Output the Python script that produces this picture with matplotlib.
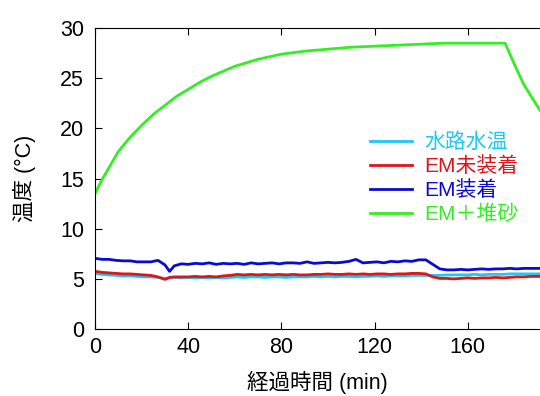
import matplotlib
matplotlib.use("Agg")
import matplotlib.pyplot as plt

plt.rcParams["font.family"] = ["Liberation Sans", "Noto Sans CJK JP", "DejaVu Sans"]

# green: EM + sand
t_green = [0, 3, 6, 10, 15, 20, 25, 30, 35, 40, 45, 50, 55, 60, 70, 80, 90, 100,
           110, 120, 130, 140, 150, 160, 170, 176, 180, 184, 188, 191]
em_sand = [13.5, 14.9, 16.1, 17.7, 19.1, 20.3, 21.4, 22.3, 23.2, 23.9, 24.6, 25.2,
           25.7, 26.2, 26.9, 27.4, 27.7, 27.9, 28.1, 28.2, 28.3, 28.4, 28.5, 28.5,
           28.5, 28.5, 26.4, 24.4, 22.9, 21.8]

t_low = [0, 3, 6, 9, 12, 15, 18, 21, 24, 27, 30, 32, 34, 37, 40, 43, 46, 49, 52, 55,
         58, 61, 64, 67, 70, 73, 76, 79, 82, 85, 88, 91, 94, 97, 100, 103, 106, 109,
         112, 115, 118, 121, 124, 127, 130, 133, 136, 139, 142, 145, 148, 151, 154,
         157, 160, 163, 166, 169, 172, 175, 178, 181, 184, 187, 191]

em_on = [7.05, 6.95, 6.95, 6.85, 6.8, 6.8, 6.7, 6.7, 6.7, 6.85, 6.4, 5.75, 6.3, 6.5,
         6.45, 6.55, 6.5, 6.6, 6.45, 6.55, 6.5, 6.55, 6.45, 6.6, 6.5, 6.55, 6.6, 6.5,
         6.6, 6.6, 6.55, 6.7, 6.55, 6.6, 6.65, 6.6, 6.65, 6.75, 6.95, 6.6, 6.65, 6.7,
         6.6, 6.75, 6.7, 6.8, 6.75, 6.9, 6.9, 6.45, 6.0, 5.9, 5.9, 5.95, 5.9, 5.95,
         6.0, 5.95, 6.0, 6.0, 6.05, 6.0, 6.05, 6.05, 6.05]

em_off = [5.75, 5.65, 5.6, 5.55, 5.5, 5.5, 5.45, 5.4, 5.35, 5.2, 4.95, 5.15, 5.2, 5.2,
          5.2, 5.25, 5.2, 5.25, 5.2, 5.3, 5.35, 5.45, 5.4, 5.45, 5.4, 5.45, 5.4, 5.45,
          5.4, 5.45, 5.4, 5.4, 5.45, 5.45, 5.5, 5.45, 5.45, 5.5, 5.45, 5.5, 5.45, 5.5,
          5.5, 5.45, 5.5, 5.5, 5.55, 5.55, 5.5, 5.2, 5.05, 5.05, 5.0, 5.05, 5.1, 5.05,
          5.1, 5.1, 5.15, 5.1, 5.15, 5.2, 5.2, 5.25, 5.25]

water = [5.55, 5.45, 5.4, 5.35, 5.3, 5.3, 5.25, 5.2, 5.2, 5.15, 5.05, 5.1, 5.15, 5.1,
         5.15, 5.1, 5.15, 5.1, 5.15, 5.1, 5.15, 5.2, 5.15, 5.2, 5.2, 5.15, 5.2, 5.2,
         5.15, 5.2, 5.2, 5.2, 5.25, 5.2, 5.25, 5.2, 5.25, 5.25, 5.2, 5.25, 5.25, 5.3,
         5.25, 5.3, 5.3, 5.3, 5.35, 5.35, 5.35, 5.35, 5.35, 5.4, 5.4, 5.4, 5.4, 5.45,
         5.4, 5.45, 5.45, 5.45, 5.5, 5.5, 5.5, 5.5, 5.5]

labels = ["水路水温", "EM未装着", "EM装着", "EM＋堆砂"]
colors = ["#1ec8f0", "#e01419", "#0a0ad2", "#33ee22"]

fig = plt.figure(figsize=(5.4, 3.96), dpi=100)
ax = fig.add_axes([0.176, 0.169, 0.824, 0.76])

series = [(t_low, water), (t_low, em_off), (t_low, em_on), (t_green, em_sand)]
for (t, y), lab, c in zip(series, labels, colors):
    ax.plot(t, y, color=c, lw=2, label=lab)

ax.set_xlim(0, 191)
ax.set_ylim(0, 30)
ax.set_xticks([0, 40, 80, 120, 160])
ax.set_yticks(range(0, 31, 5))
ax.tick_params(direction="in", length=5, labelsize=15.5, top=True)
ax.tick_params(axis="x", pad=6)
ax.tick_params(axis="y", pad=8)
ax.spines["right"].set_visible(False)
ax.set_xlabel("経過時間 (min)", fontsize=15.5, labelpad=9)
ax.set_ylabel("温度 (°C)", fontsize=15.5, labelpad=17)

leg = ax.legend(loc="upper left", bbox_to_anchor=(0.6, 0.68), frameon=False,
                fontsize=15, handlelength=2.0, handletextpad=0.6,
                labelspacing=0.2, borderaxespad=0)
for text, c in zip(leg.get_texts(), colors):
    text.set_color(c)

fig.savefig("out.png", dpi=100)
